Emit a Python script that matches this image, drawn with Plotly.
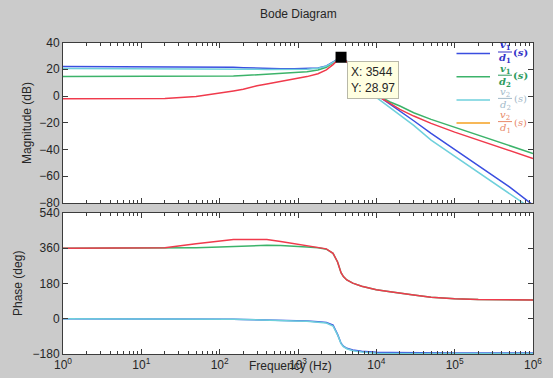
import math
import plotly.graph_objects as go

# ---------------- data ----------------
freq_hz = [1, 10, 20, 50, 100, 150, 200, 300, 400, 600, 900, 1300, 1800, 2300, 2800,
           3200, 3544, 3800, 4200, 5000, 6500, 8000, 1e4, 1.5e4, 2e4, 3e4, 5e4, 1e5,
           2e5, 5e5, 1e6]

mag_v1_d1 = [22, 22, 22, 22, 21.8, 21.5, 21.2, 20.8, 20.6, 20.4, 20.3, 20.4, 21, 22.5, 25.5,
             27.8, 28.97, 28.3, 26, 21, 13, 7.5, 1, -6, -11, -18.5, -28, -40,
             -52, -68, -81.5]
mag_v1_d2 = [14.5, 14.5, 14.5, 14.5, 14.6, 15, 15.3, 15.8, 16.1, 16.6, 17.3, 18.1, 19.5, 21.5, 24.8,
             27.4, 28.6, 28, 25.8, 21, 13, 7.5, 1, -4.5, -7.5, -12.5, -17.5, -23.5,
             -29.5, -37, -43]
mag_v2_d2 = [20.5, 20.5, 20.5, 20.5, 20.4, 20.3, 20.2, 20, 19.9, 19.8, 19.8, 20, 20.7, 22.3, 25.2,
             27.5, 28.6, 28, 25.6, 20.5, 12, 6, -1, -9, -14, -22, -33, -45,
             -57, -73, -85]
mag_v2_d1 = [-2, -2, -1.8, -0.3, 2, 3.8, 5, 7.7, 9, 10.8, 12.7, 14.5, 16.6, 19.5, 23.5,
             26.8, 28.2, 27.7, 25.5, 20.5, 12.5, 7, 0.5, -5.5, -10, -15, -20.5, -27,
             -33, -40.5, -46.7]

ph_v1_d1 = [0, 0, -0.3, -1, -2, -3, -4, -5, -6, -8, -10, -12, -15, -19, -33,
            -80, -125, -140, -151, -160, -166, -169, -171, -172, -173, -174, -175, -175,
            -175, -175, -175]
ph_v1_d2 = [360, 360, 360, 363, 366, 369, 371, 374, 375, 374, 371, 367, 362, 355, 334,
            290, 235, 215, 198, 182, 166, 156, 148, 138, 130, 121, 110, 102,
            98, 96, 96]
ph_v2_d2 = [0, 0, -0.3, -1, -2, -3, -4, -5, -6, -9, -11, -13, -17, -22, -37,
            -82, -127, -142, -153, -163, -170, -174, -176, -177, -177, -177, -177, -177,
            -177, -177, -177]
ph_v2_d1 = [360, 360, 362, 383, 398, 405, 405, 405, 405, 394, 384, 374, 365, 357, 334,
            290, 235, 215, 198, 182, 166, 156, 148, 138, 130, 121, 110, 102,
            98, 96, 96]

peak_f = [3544]
peak_db = [28.97]

x_tick_vals = [1, 10, 100, 1000, 10000, 100000, 1000000]
x_tick_text = ["10<sup>0</sup>", "10<sup>1</sup>", "10<sup>2</sup>", "10<sup>3</sup>",
               "10<sup>4</sup>", "10<sup>5</sup>", "10<sup>6</sup>"]
x_minor_vals = [m * 10 ** e for e in range(0, 6) for m in range(2, 10)]
mag_ticks = [-80, -60, -40, -20, 0, 20, 40]
ph_ticks = [-180, 0, 180, 360, 540]

series_names = ["v1/d1", "v1/d2", "v2/d2", "v2/d1"]

# ---------------- styling ----------------
W, H = 553, 378
C_BLUE = "#3a4ee0"
C_GREEN = "#3cb36a"
C_CYAN = "#6fd0dc"
C_RED = "#f03a4c"
C_ORANGE = "#f5a020"
BG = "#cbcbcb"
AX = "#3c3c3c"
TXT = "#262626"
FONT = "Liberation Sans, Arial, sans-serif"


def px(x):
    return x / W


def py(y):
    return 1 - y / H


X0, X1 = 63, 533
TOP_Y0, TOP_Y1 = 42.5, 203
BOT_Y0, BOT_Y1 = 213, 354

fig = go.Figure()

mag_series = [(mag_v1_d1, C_BLUE), (mag_v1_d2, C_GREEN), (mag_v2_d2, C_CYAN), (mag_v2_d1, C_RED)]
ph_series = [(ph_v1_d1, C_BLUE), (ph_v1_d2, C_GREEN), (ph_v2_d2, C_CYAN), (ph_v2_d1, C_RED)]

for name, (vals, col) in zip(series_names, mag_series):
    fig.add_trace(go.Scatter(x=freq_hz, y=vals, mode="lines", name=name,
                             line=dict(color=col, width=1.5), showlegend=False,
                             xaxis="x", yaxis="y"))
for name, (vals, col) in zip(series_names, ph_series):
    fig.add_trace(go.Scatter(x=freq_hz, y=vals, mode="lines", name=name,
                             line=dict(color=col, width=1.5), showlegend=False,
                             xaxis="x2", yaxis="y2"))

fig.add_trace(go.Scatter(x=peak_f, y=peak_db, mode="markers", showlegend=False,
                         marker=dict(symbol="square", size=11, color="black"),
                         xaxis="x", yaxis="y"))

common_x = dict(type="log", range=[0, 6], showgrid=False, zeroline=False,
                showline=True, linecolor=AX, linewidth=1, mirror="ticks",
                ticks="inside", ticklen=5, tickcolor=AX, tickwidth=1,
                tickmode="array", tickvals=x_tick_vals, ticktext=x_tick_text,
                minor=dict(ticks="inside", ticklen=3, tickcolor=AX, tickwidth=1,
                           showgrid=False, tickmode="array", tickvals=x_minor_vals),
                tickfont=dict(family=FONT, size=12, color=TXT),
                automargin=False,
                domain=[px(X0), px(X1)])

common_y = dict(showgrid=False, zeroline=False, showline=True, linecolor=AX, linewidth=1,
                mirror="ticks", ticks="inside", ticklen=5, tickcolor=AX, tickwidth=1,
                tickfont=dict(family=FONT, size=12, color=TXT), automargin=False)

fig.update_layout(
    width=W, height=H, autosize=False,
    margin=dict(l=0, r=0, t=0, b=0, pad=0, autoexpand=False),
    paper_bgcolor=BG, plot_bgcolor="white",
    font=dict(family=FONT, size=12, color=TXT),
    showlegend=False,
    xaxis=dict(common_x, anchor="y", showticklabels=False),
    yaxis=dict(common_y, range=[-80, 40], tickvals=mag_ticks,
               domain=[py(TOP_Y1), py(TOP_Y0)], anchor="x"),
    xaxis2=dict(common_x, anchor="y2", showticklabels=True),
    yaxis2=dict(common_y, range=[-180, 540], tickvals=ph_ticks,
                domain=[py(BOT_Y1), py(BOT_Y0)], anchor="x2"),
)


def label(text, x, y, **kw):
    d = dict(text=text, x=px(x), y=py(y), xref="paper", yref="paper",
             xanchor="center", yanchor="middle", showarrow=False,
             font=dict(family=FONT, size=12, color=TXT))
    d.update(kw)
    return d


ann = []
ann.append(label("Bode Diagram", 298, 14))
ann.append(label("Magnitude (dB)", 27, 123, textangle=-90))
ann.append(label("Phase (deg)", 18, 284, textangle=-90))
ann.append(label("Frequency (Hz)", 290, 366))

# data cursor tooltip
ann.append(dict(text="X: %d<br>Y: %.2f" % (peak_f[0], peak_db[0]),
                x=math.log10(peak_f[0]), y=peak_db[0], xref="x", yref="y",
                xanchor="left", yanchor="top", xshift=6, yshift=-4, showarrow=False,
                align="left", bgcolor="#ffffe1", bordercolor="#b8b8a8", borderwidth=1,
                borderpad=3, font=dict(family=FONT, size=12, color=TXT)))

# custom legend (fraction labels)
legend_items = [
    ("v", "1", "d", "1", C_BLUE, "#3535c8", True),
    ("v", "1", "d", "2", C_GREEN, "#2e9b5e", True),
    ("v", "2", "d", "2", C_CYAN, "#a3b9c9", False),
    ("v", "2", "d", "1", C_ORANGE, "#e8896a", False),
]
SERIF = "DejaVu Serif, serif"
shapes = []
row_y0 = 53.5
row_dy = 23.2
for i, (n, ns, d, ds, lc, tc, bold) in enumerate(legend_items):
    yc = row_y0 + i * row_dy
    bar = yc - 1.5
    shapes.append(dict(type="line", xref="paper", yref="paper",
                       x0=px(456.5), x1=px(490), y0=py(yc), y1=py(yc),
                       line=dict(color=lc, width=1.5)))
    shapes.append(dict(type="line", xref="paper", yref="paper",
                       x0=px(498), x1=px(512), y0=py(bar), y1=py(bar),
                       line=dict(color=tc, width=1)))
    fb = ("<b><i>%s</i>%s</b>" if bold else "<i>%s</i>%s")
    num = fb % (n, "<sub>%s</sub>" % ns)
    den = fb % (d, "<sub>%s</sub>" % ds)
    ann.append(label(num, 505, bar - 6, font=dict(family=SERIF, size=10, color=tc)))
    ann.append(label(den, 505, bar + 7, font=dict(family=SERIF, size=10, color=tc)))
    stxt = "<b>(<i>s</i>)</b>" if bold else "(<i>s</i>)"
    ann.append(label(stxt, 520, yc - 1, font=dict(family=SERIF, size=10, color=tc)))

fig.update_layout(annotations=ann, shapes=shapes)

fig.write_html("out.html",
               post_script="document.body.style.margin='0';document.body.style.overflow='hidden';")
